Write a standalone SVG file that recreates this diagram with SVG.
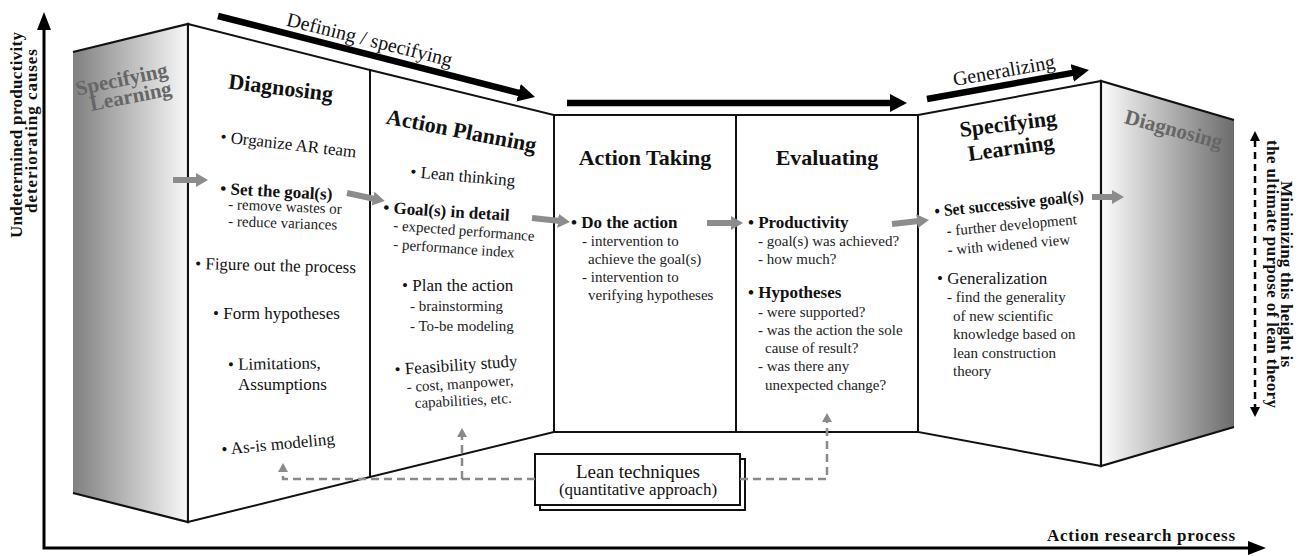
<svg xmlns="http://www.w3.org/2000/svg" width="1303" height="556" viewBox="0 0 1303 556" font-family="Liberation Serif, Times New Roman, serif">
<defs>
<style>
text{font-family:"Liberation Serif","Times New Roman",serif;fill:#111}
.title{font-size:22px;font-weight:bold}
.gtitle{font-size:21px;font-weight:bold;fill:#666}
.m{font-size:17px}
.hb{font-size:17px;font-weight:bold}
.s{font-size:15px;fill:#222}
.ax{font-size:17px;font-weight:bold}
.top{font-size:20px}
.pan{fill:#fff;stroke:#111;stroke-width:2;stroke-linejoin:miter}
.edge{fill:none;stroke:#111;stroke-width:2.2}
.blk{fill:none;stroke:#000;stroke-width:6.5;marker-end:url(#mk-black)}
.gry{fill:none;stroke:#8c8c8c;stroke-width:6;marker-end:url(#mk-gray)}
.dsh{fill:none;stroke:#8a8a8a;stroke-width:2.5;stroke-dasharray:8 5;marker-end:url(#mk-dash)}
</style>
<linearGradient id="gL" x1="0" y1="0" x2="1" y2="0"><stop offset="0" stop-color="#808080"/><stop offset="1" stop-color="#f8f8f8"/></linearGradient>
<linearGradient id="gR" x1="0" y1="0" x2="1" y2="0"><stop offset="0" stop-color="#fcfcfc"/><stop offset="1" stop-color="#6c6c6c"/></linearGradient>
<marker id="mk-black" markerUnits="userSpaceOnUse" markerWidth="20" markerHeight="20" refX="2" refY="9" orient="auto"><path d="M0,0 L17,9 L0,18 z" fill="#000"/></marker>
<marker id="mk-gray" markerUnits="userSpaceOnUse" markerWidth="14" markerHeight="16" refX="2" refY="7" orient="auto"><path d="M0,0 L12,7 L0,14 z" fill="#8c8c8c"/></marker>
<marker id="mk-dash" markerUnits="userSpaceOnUse" markerWidth="12" markerHeight="12" refX="1" refY="5" orient="auto"><path d="M0,0 L9,5 L0,10 z" fill="#8a8a8a"/></marker>
<marker id="mk-axis" markerUnits="userSpaceOnUse" markerWidth="20" markerHeight="16" refX="2" refY="7" orient="auto-start-reverse"><path d="M0,0 L18,7 L0,14 z" fill="#000"/></marker>
<marker id="mk-small" markerUnits="userSpaceOnUse" markerWidth="12" markerHeight="12" refX="1" refY="5" orient="auto-start-reverse"><path d="M0,0 L10,5 L0,10 z" fill="#000"/></marker>
</defs>
<rect width="1303" height="556" fill="#fff"/>

<g id="axes">
<path d="M44,28 V548 H1250" fill="none" stroke="#000" stroke-width="3" marker-start="url(#mk-axis)" marker-end="url(#mk-axis)"/>
<text class="ax" transform="translate(22,135) rotate(-90)" text-anchor="middle" textLength="206">Undetermined productivity</text>
<text class="ax" transform="translate(37,131) rotate(-90)" text-anchor="middle" textLength="164">deteriorating causes</text>
<text class="ax" x="1047" y="541" textLength="188">Action research process</text>
</g>

<g id="left-learning">
<polygon points="73,52 188,24 188,522 73,493" fill="url(#gL)"/>
<polyline class="edge" points="73,52 188,24 188,522 73,493"/>
<text class="gtitle" text-anchor="middle" transform="rotate(-12 123 86)" x="123" y="86">Specifying</text>
<text class="gtitle" text-anchor="middle" transform="rotate(-11 132 103)" x="132" y="103">Learning</text>
</g>

<g id="diagnosing">
<polygon class="pan" points="188,24 370,70 370,477 188,522"/>
<text class="title" text-anchor="middle" transform="rotate(7 280 95)" x="280" y="95">Diagnosing</text>
<text class="m" transform="rotate(6.5 220 142)" x="220" y="142">• Organize AR team</text>
<text class="hb" transform="rotate(3 220 194)" x="220" y="194">• Set the goal(s)</text>
<text class="s" transform="rotate(2.5 228 209)" x="228" y="209">- remove wastes or</text>
<text class="s" transform="rotate(2 228 226)" x="228" y="226">- reduce variances</text>
<text class="m" transform="rotate(1.5 195 269)" x="195" y="269">• Figure out the process</text>
<text class="m" x="213" y="319">• Form hypotheses</text>
<text class="m" transform="rotate(-1 228 370)" x="228" y="370">• Limitations,</text>
<text class="m" x="238" y="390">Assumptions</text>
<text class="m" transform="rotate(-5.5 222 455)" x="222" y="455">• As-is modeling</text>
</g>

<g id="action-planning">
<polygon class="pan" points="370,70 554,115 554,432 370,477"/>
<text class="title" text-anchor="middle" transform="rotate(11 460 138)" x="460" y="138">Action Planning</text>
<text class="m" transform="rotate(5 410 177)" x="410" y="177">• Lean thinking</text>
<text class="hb" transform="rotate(3.5 383 213)" x="383" y="213">• Goal(s) in detail</text>
<text class="s" transform="rotate(4.5 393 230)" x="393" y="230">- expected performance</text>
<text class="s" transform="rotate(4 393 249)" x="393" y="249">- performance index</text>
<text class="m" x="402" y="291">• Plan the action</text>
<text class="s" x="410" y="311">- brainstorming</text>
<text class="s" x="410" y="331">- To-be modeling</text>
<text class="m" transform="rotate(-4 395 375)" x="395" y="375">• Feasibility study</text>
<text class="s" transform="rotate(-3.7 407 392)" x="407" y="392">- cost, manpower,</text>
<text class="s" transform="rotate(-3 415 408)" x="415" y="408">capabilities, etc.</text>
</g>

<g id="action-taking">
<rect class="pan" x="554" y="115" width="182" height="317"/>
<text class="title" text-anchor="middle" x="645" y="165">Action Taking</text>
<text class="hb" x="571" y="228">• Do the action</text>
<text class="s" x="582" y="246">- intervention to</text>
<text class="s" x="588" y="264">achieve the goal(s)</text>
<text class="s" x="582" y="282">- intervention to</text>
<text class="s" x="588" y="300">verifying hypotheses</text>
</g>

<g id="evaluating">
<rect class="pan" x="736" y="115" width="182" height="317"/>
<text class="title" text-anchor="middle" x="827" y="165">Evaluating</text>
<text class="hb" x="748" y="228">• Productivity</text>
<text class="s" x="758" y="246">- goal(s) was achieved?</text>
<text class="s" x="758" y="264">- how much?</text>
<text class="hb" x="748" y="298">• Hypotheses</text>
<text class="s" x="758" y="317">- were supported?</text>
<text class="s" x="758" y="335">- was the action the sole</text>
<text class="s" x="765" y="353">cause of result?</text>
<text class="s" x="758" y="371">- was there any</text>
<text class="s" x="765" y="390">unexpected change?</text>
</g>

<g id="specifying-learning">
<polygon class="pan" points="918,115 1101,81 1101,466 918,432"/>
<text class="title" font-size="21" text-anchor="middle" transform="rotate(-7 1009 131)" x="1009" y="131">Specifying</text>
<text class="title" font-size="21" text-anchor="middle" transform="rotate(-8 1012 155)" x="1012" y="155">Learning</text>
<text class="hb" transform="rotate(-6 935 217)" x="935" y="217" textLength="150" lengthAdjust="spacingAndGlyphs">• Set successive goal(s)</text>
<text class="s" transform="rotate(-5.2 947 236)" x="947" y="236">- further development</text>
<text class="s" transform="rotate(-5 948 255)" x="948" y="255">- with widened view</text>
<text class="m" x="937" y="284">• Generalization</text>
<text class="s" x="947" y="302">- find the generality</text>
<text class="s" x="953" y="321">of new scientific</text>
<text class="s" x="953" y="339">knowledge based on</text>
<text class="s" x="953" y="358">lean construction</text>
<text class="s" x="953" y="376">theory</text>
</g>

<g id="right-diagnosing">
<polygon points="1101,81 1234,120 1234,427 1101,466" fill="url(#gR)"/>
<polyline class="edge" points="1234,120 1101,81 1101,466 1234,427"/>
<text class="gtitle" font-size="22" text-anchor="middle" transform="rotate(15 1172 136)" x="1172" y="136">Diagnosing</text>
</g>

<g id="lean-techniques">
<rect x="540" y="459" width="205" height="51" fill="#fff" stroke="#111" stroke-width="2"/>
<rect x="535" y="454" width="205" height="51" fill="#fff" stroke="#111" stroke-width="2"/>
<text text-anchor="middle" x="638" y="478" font-size="19">Lean techniques</text>
<text text-anchor="middle" x="638" y="495" font-size="17">(quantitative approach)</text>
</g>

<g id="height-note">
<path d="M1255,140 V408" fill="none" stroke="#000" stroke-width="2.5" stroke-dasharray="7 5" marker-start="url(#mk-small)" marker-end="url(#mk-small)"/>
<text class="ax" font-size="16" text-anchor="middle" transform="translate(1281,274) rotate(90)" textLength="186">Minimizing this height is</text>
<text class="ax" font-size="16" text-anchor="middle" transform="translate(1267,274) rotate(90)" textLength="268">the ultimate purpose of lean theory</text>
</g>

<g id="connectors">
<path class="blk" d="M218,16 L520.5,93.3"/>
<text class="top" text-anchor="middle" transform="rotate(14 368 46)" x="368" y="46">Defining / specifying</text>
<path class="blk" d="M567,103 L892,103"/>
<path class="blk" d="M927,99 L1074.2,72.6"/>
<text class="top" text-anchor="middle" transform="rotate(-10 1005 77)" x="1005" y="77">Generalizing</text>
<path class="gry" d="M173,180 L198,180"/>
<path class="gry" d="M347,193 L375,199"/>
<path class="gry" d="M532,218 L560,221"/>
<path class="gry" d="M707,223 L733,223"/>
<path class="gry" d="M892,224 L919,221"/>
<path class="gry" d="M1092,197 L1114,197"/>
<path class="dsh" d="M535,479 H283 V471"/>
<path class="dsh" d="M462,479 V436"/>
<path class="dsh" d="M740,479 H827 V421"/>
</g>
</svg>
